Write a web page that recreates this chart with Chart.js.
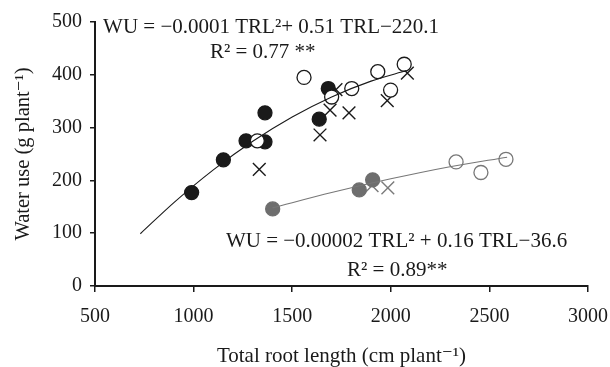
<!DOCTYPE html>
<html>
<head>
<meta charset="utf-8">
<script src="https://cdn.jsdelivr.net/npm/chart.js@4.4.1/dist/chart.umd.min.js"></script>
<style>
  html, body { margin: 0; padding: 0; background: #fff; }
  #wrap { width: 610px; height: 367px; }
</style>
</head>
<body>
<div id="wrap"><canvas id="wu-chart"></canvas></div>
<script>
  'use strict';

  // tick values
  var xTicks = [500, 1000, 1500, 2000, 2500, 3000];
  var yTicks = [0, 100, 200, 300, 400, 500];

  // black group (upper cloud)
  var blackFilledX = [990, 1151, 1266, 1362, 1362, 1637, 1683];
  var blackFilledY = [177, 239, 275, 273, 328, 316, 374];
  var blackOpenX = [1323, 1560, 1700, 1802, 1934, 1999, 2068];
  var blackOpenY = [275, 395, 358, 374, 406, 371, 420];
  var blackCrossX = [1333, 1641, 1692, 1722, 1788, 1982, 2084];
  var blackCrossY = [221, 286, 333, 372, 328, 351, 403];

  // gray group (lower cloud)
  var grayFilledX = [1401, 1840, 1908];
  var grayFilledY = [146, 182, 201];
  var grayOpenX = [2331, 2457, 2584];
  var grayOpenY = [235, 215, 240];
  var grayCrossX = [1905, 1985];
  var grayCrossY = [190, 186];

  // fitted curves
  var blackCurveX = [730, 900, 1100, 1300, 1500, 1700, 1900, 2080];
  var blackCurveY = [99, 158, 220, 274, 320, 358, 388, 408];
  var grayCurveX = [1400, 1700, 2000, 2300, 2590];
  var grayCurveY = [148, 177, 203, 226, 244];

  var INK = '#1a1a1a';
  var GRAY = '#6e6e6e';
  var SERIF = '"Liberation Serif", "DejaVu Serif", serif';

  function pts(xs, ys) {
    return xs.map(function (x, i) { return { x: x, y: ys[i] }; });
  }

  function scatterSet(label, xs, ys, style, fill, stroke, r, order) {
    return {
      type: 'scatter',
      label: label,
      data: pts(xs, ys),
      pointStyle: style,
      pointRadius: r,
      pointHoverRadius: r,
      backgroundColor: fill,
      borderColor: stroke,
      borderWidth: style === 'crossRot' ? 1.4 : 1.3,
      order: order
    };
  }

  function curveSet(label, xs, ys, color, order) {
    return {
      type: 'line',
      label: label,
      data: pts(xs, ys),
      borderColor: color,
      borderWidth: 1.1,
      pointRadius: 0,
      fill: false,
      cubicInterpolationMode: 'monotone',
      order: order
    };
  }

  // equations and R² written in data space
  var notes = [
    { x: 541, y: 490, text: 'WU = \u22120.0001 TRL\u00b2+ 0.51 TRL\u2212220.1' },
    { x: 1083, y: 443, text: 'R\u00b2 = 0.77 **' },
    { x: 1164, y: 85, text: 'WU = \u22120.00002 TRL\u00b2 + 0.16 TRL\u221236.6' },
    { x: 1778, y: 30, text: 'R\u00b2 = 0.89**' }
  ];

  var notePlugin = {
    id: 'notes',
    afterDatasetsDraw: function (chart) {
      var ctx = chart.ctx;
      var xs = chart.scales.x, ys = chart.scales.y;
      ctx.save();
      ctx.fillStyle = INK;
      ctx.font = '21px ' + SERIF;
      ctx.textAlign = 'left';
      ctx.textBaseline = 'middle';
      notes.forEach(function (n) {
        ctx.fillText(n.text, xs.getPixelForValue(n.x), ys.getPixelForValue(n.y));
      });
      ctx.restore();
    }
  };

  function plain(v) { return String(v); }

  new Chart(document.getElementById('wu-chart'), {
    data: {
      datasets: [
        curveSet('fit black', blackCurveX, blackCurveY, INK, 1),
        curveSet('fit gray', grayCurveX, grayCurveY, '#777', 1),
        scatterSet('open', blackOpenX, blackOpenY, 'circle', '#fff', INK, 7, 3),
        scatterSet('gray open', grayOpenX, grayOpenY, 'circle', '#fff', '#777', 7, 3),
        scatterSet('filled', blackFilledX, blackFilledY, 'circle', INK, INK, 7, 4),
        scatterSet('gray filled', grayFilledX, grayFilledY, 'circle', GRAY, GRAY, 7, 4),
        scatterSet('cross', blackCrossX, blackCrossY, 'crossRot', INK, INK, 9, 5),
        scatterSet('gray cross', grayCrossX, grayCrossY, 'crossRot', '#7a7a7a', '#7a7a7a', 9, 5)
      ]
    },
    options: {
      responsive: true,
      maintainAspectRatio: false,
      animation: false,
      layout: { padding: { top: 22, right: 22, left: 0, bottom: 0 } },
      plugins: {
        legend: { display: false },
        tooltip: { enabled: false }
      },
      scales: {
        x: {
          type: 'linear',
          min: 500,
          max: 3000,
          afterBuildTicks: function (scale) {
            scale.ticks = xTicks.map(function (v) { return { value: v }; });
          },
          afterFit: function (scale) {
            scale.height = 81;
            scale.paddingLeft = 0;
            scale.paddingRight = 0;
          },
          border: { color: INK, width: 2 },
          grid: { drawOnChartArea: false, drawTicks: true, tickLength: 6, color: INK, lineWidth: 1.5 },
          ticks: { color: INK, padding: 13, callback: plain, font: { family: SERIF, size: 20 } },
          title: {
            display: true,
            text: 'Total root length (cm plant\u207b\u00b9)',
            color: INK,
            padding: { top: 0, bottom: -2 },
            font: { family: SERIF, size: 21 }
          }
        },
        y: {
          type: 'linear',
          min: 0,
          max: 500,
          afterBuildTicks: function (scale) {
            scale.ticks = yTicks.map(function (v) { return { value: v }; });
          },
          afterFit: function (scale) { scale.width = 95; },
          border: { color: INK, width: 2 },
          grid: { drawOnChartArea: false, drawTicks: true, tickLength: 5, color: INK, lineWidth: 1.5 },
          ticks: { color: INK, padding: 8, callback: plain, font: { family: SERIF, size: 20 } },
          title: {
            display: true,
            text: 'Water use (g plant\u207b\u00b9)',
            color: INK,
            padding: { top: 11, bottom: 0 },
            font: { family: SERIF, size: 20.5 }
          }
        }
      }
    },
    plugins: [notePlugin]
  });
</script>
</body>
</html>
